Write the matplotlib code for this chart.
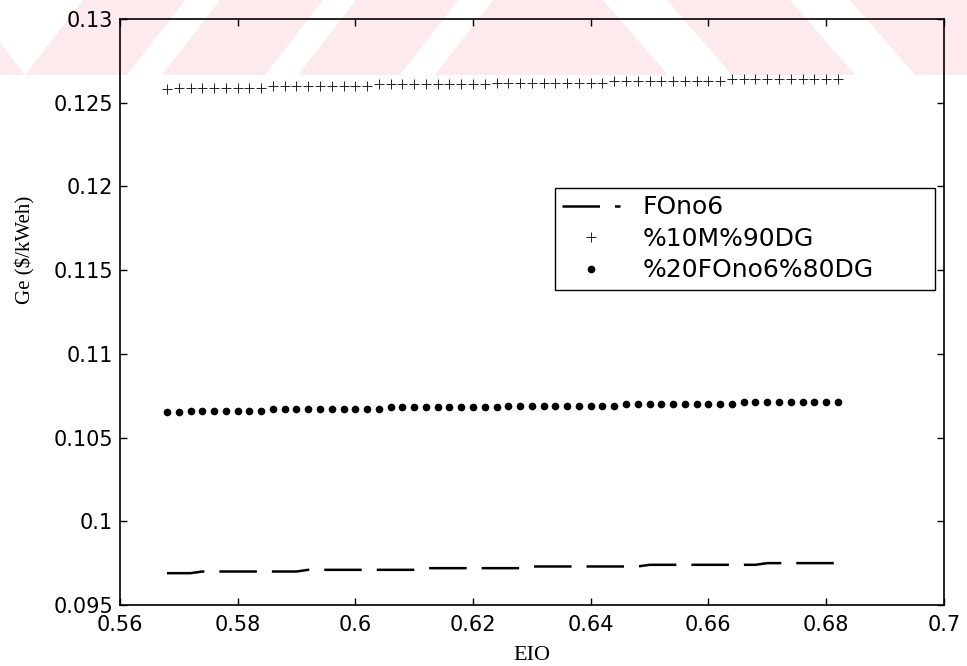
import matplotlib.pyplot as plt
from matplotlib.patches import Polygon

# EIO values (x) shared by the three fuel mixes
eio = [0.568, 0.570, 0.572, 0.574, 0.576, 0.578, 0.580, 0.582, 0.584, 0.586,
       0.588, 0.590, 0.592, 0.594, 0.596, 0.598, 0.600, 0.602, 0.604, 0.606,
       0.608, 0.610, 0.612, 0.614, 0.616, 0.618, 0.620, 0.622, 0.624, 0.626,
       0.628, 0.630, 0.632, 0.634, 0.636, 0.638, 0.640, 0.642, 0.644, 0.646,
       0.648, 0.650, 0.652, 0.654, 0.656, 0.658, 0.660, 0.662, 0.664, 0.666,
       0.668, 0.670, 0.672, 0.674, 0.676, 0.678, 0.680, 0.682]

ge_fono6 = [0.0969, 0.0969, 0.0969, 0.0970, 0.0970, 0.0970, 0.0970, 0.0970, 0.0970, 0.0970,
            0.0970, 0.0970, 0.0971, 0.0971, 0.0971, 0.0971, 0.0971, 0.0971, 0.0971, 0.0971,
            0.0971, 0.0971, 0.0972, 0.0972, 0.0972, 0.0972, 0.0972, 0.0972, 0.0972, 0.0972,
            0.0972, 0.0973, 0.0973, 0.0973, 0.0973, 0.0973, 0.0973, 0.0973, 0.0973, 0.0973,
            0.0973, 0.0974, 0.0974, 0.0974, 0.0974, 0.0974, 0.0974, 0.0974, 0.0974, 0.0974,
            0.0974, 0.0975, 0.0975, 0.0975, 0.0975, 0.0975, 0.0975, 0.0975]

ge_m10 = [0.1258, 0.1259, 0.1259, 0.1259, 0.1259, 0.1259, 0.1259, 0.1259, 0.1259, 0.1260,
          0.1260, 0.1260, 0.1260, 0.1260, 0.1260, 0.1260, 0.1260, 0.1260, 0.1261, 0.1261,
          0.1261, 0.1261, 0.1261, 0.1261, 0.1261, 0.1261, 0.1261, 0.1261, 0.1262, 0.1262,
          0.1262, 0.1262, 0.1262, 0.1262, 0.1262, 0.1262, 0.1262, 0.1262, 0.1263, 0.1263,
          0.1263, 0.1263, 0.1263, 0.1263, 0.1263, 0.1263, 0.1263, 0.1263, 0.1264, 0.1264,
          0.1264, 0.1264, 0.1264, 0.1264, 0.1264, 0.1264, 0.1264, 0.1264]

ge_fo20 = [0.1065, 0.1065, 0.1066, 0.1066, 0.1066, 0.1066, 0.1066, 0.1066, 0.1066, 0.1067,
           0.1067, 0.1067, 0.1067, 0.1067, 0.1067, 0.1067, 0.1067, 0.1067, 0.1067, 0.1068,
           0.1068, 0.1068, 0.1068, 0.1068, 0.1068, 0.1068, 0.1068, 0.1068, 0.1068, 0.1069,
           0.1069, 0.1069, 0.1069, 0.1069, 0.1069, 0.1069, 0.1069, 0.1069, 0.1069, 0.1070,
           0.1070, 0.1070, 0.1070, 0.1070, 0.1070, 0.1070, 0.1070, 0.1070, 0.1070, 0.1071,
           0.1071, 0.1071, 0.1071, 0.1071, 0.1071, 0.1071, 0.1071, 0.1071]

labels = ['FOno6', '%10M%90DG', '%20FOno6%80DG']
xticks = [0.56, 0.58, 0.6, 0.62, 0.64, 0.66, 0.68, 0.7]
yticks = [0.095, 0.1, 0.105, 0.11, 0.115, 0.12, 0.125, 0.13]

plt.rcParams['font.family'] = ['DejaVu Sans']

W, H = 967, 666
fig = plt.figure(figsize=(W / 100, H / 100), dpi=100)

# pale red watermark stripes across the top of the scan (pixel corners: bottom-left, bottom-right, top-right, top-left)
band = 75
stripes = [
    [(0, band), (25, band), (-33, 0), (0, 0)],
    [(25, band), (127, band), (185, 0), (83, 0)],
    [(162, band), (265, band), (323, 0), (220, 0)],
    [(298, band), (400, band), (458, 0), (356, 0)],
    [(435, band), (668, band), (603, 0), (493, 0)],
    [(732, band), (855, band), (790, 0), (667, 0)],
    [(915, band), (967, band), (967, 0), (850, 0)],
]
for quad in stripes:
    pts = [(px / W, 1 - py / H) for px, py in quad]
    fig.patches.append(Polygon(pts, closed=True, transform=fig.transFigure,
                               facecolor='#fdeaed', edgecolor='none', zorder=-5))

ax = fig.add_axes([0.124, 0.0916, 0.852, 0.88])
ax.patch.set_alpha(0)

ax.plot(eio, ge_fono6, color='black', lw=1.8, dashes=(15, 6), label=labels[0])
ax.plot(eio, ge_m10, color='#222222', ls='none', marker='+', ms=7, mew=0.7, label=labels[1])
ax.plot(eio, ge_fo20, color='black', ls='none', marker='o', ms=4.5, label=labels[2])

ax.set_xlim(0.56, 0.7)
ax.set_ylim(0.095, 0.13)
ax.set_xticks(xticks)
ax.set_xticklabels(['0.56', '0.58', '0.6', '0.62', '0.64', '0.66', '0.68', '0.7'])
ax.set_yticks(yticks)
ax.set_yticklabels(['0.095', '0.1', '0.105', '0.11', '0.115', '0.12', '0.125', '0.13'])
ax.tick_params(direction='in', length=5, width=1, top=True, right=True, labelsize=15)
ax.tick_params(axis='x', pad=7)
ax.tick_params(axis='y', pad=5)
for s in ax.spines.values():
    s.set_linewidth(1.2)

ax.set_xlabel('EIO', family='Liberation Serif', fontsize=16)
ax.xaxis.set_label_coords(0.5, -0.07)
ax.set_ylabel('Ge ($/kWeh)', family='Liberation Serif', fontsize=15)
ax.yaxis.set_label_coords(-0.102, 0.606)

leg = ax.legend(loc='upper left', bbox_to_anchor=(0.528, 0.5, 0.461, 0.2116), mode='expand',
                borderaxespad=0, fontsize=18, fancybox=False, framealpha=1, edgecolor='black',
                handlelength=2.3, handletextpad=0.9, borderpad=0.3, labelspacing=0.3)
leg.get_frame().set_linewidth(1.0)

fig.savefig('out.png', dpi=100)
